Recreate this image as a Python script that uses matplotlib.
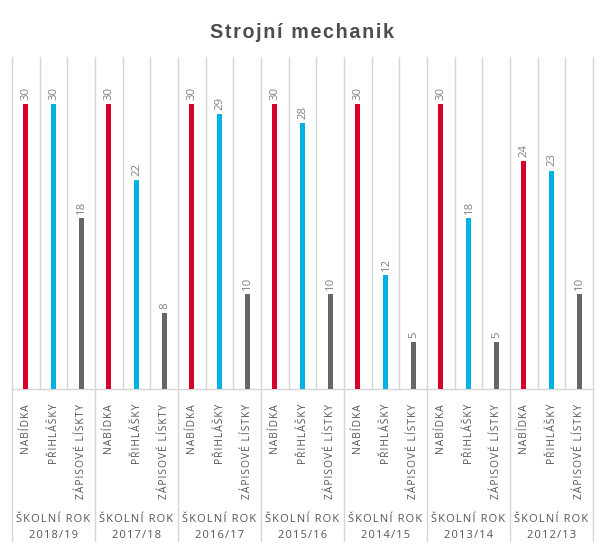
import matplotlib
matplotlib.use('Agg')
import matplotlib.pyplot as plt

title = 'Strojní mechanik'
years = ['2018/19', '2017/18', '2016/17', '2015/16', '2014/15', '2013/14', '2012/13']
nabidka = [30, 30, 30, 30, 30, 30, 24]
prihlasky = [30, 22, 29, 28, 12, 18, 23]
zapisove = [18, 8, 10, 10, 5, 5, 10]
lbl_nabidka = 'NABÍDKA'
lbl_prihlasky = 'PŘIHLÁŠKY'
lbl_zapisove = ['ZÁPISOVÉ LÍSKTY', 'ZÁPISOVÉ LÍSKTY', 'ZÁPISOVÉ LÍSTKY', 'ZÁPISOVÉ LÍSTKY',
                'ZÁPISOVÉ LÍSTKY', 'ZÁPISOVÉ LÍSTKY', 'ZÁPISOVÉ LÍSTKY']
group_word = 'ŠKOLNÍ ROK'

colors = ['#d7002b', '#00b1e4', '#666666']
grid_c = '#d6d6d6'
FAM = ['Open Sans', 'DejaVu Sans']


def sp(s):
    return '\u200a'.join(s)


W, H = 605, 553
fig = plt.figure(figsize=(W / 100, H / 100), dpi=100)
left, right, base, top = 12, 593, 389, 57
ax = fig.add_axes([left / W, 1 - base / H, (right - left) / W, (base - top) / H])
pxu = 9.5
ymax = (base - top) / pxu
ax.set_xlim(0, 21)
ax.set_ylim(0, ymax)
ax.axis('off')

def py(p):
    # pixel y (from top) -> data units
    return (base - p) / pxu

bw = 5 / ((right - left) / 21)

for g, yr in enumerate(years):
    vals = [nabidka[g], prihlasky[g], zapisove[g]]
    labs = [lbl_nabidka, lbl_prihlasky, lbl_zapisove[g]]
    for k in range(3):
        i = g * 3 + k
        x = i + 0.5
        ax.bar(x, vals[k], width=bw, color=colors[k], zorder=3)
        ax.text(x + 0.02, vals[k] + 4 / pxu, str(vals[k]), rotation=90, ha='center', va='bottom',
                fontsize=8.2, color='#808080', family=FAM)
        ax.text(x + 0.02, py(404), sp(labs[k]), rotation=90, ha='center', va='top',
                fontsize=7.35, color='#555555', family=FAM, clip_on=False)
    gx = g * 3 + 1.5
    ax.text(gx, py(519), sp(group_word), ha='center', va='center', fontsize=8,
            color='#555555', family=FAM, clip_on=False)
    ax.text(gx, py(535), sp(yr), ha='center', va='center', fontsize=8,
            color='#555555', family=FAM, clip_on=False)

for i in range(22):
    if i % 3 == 0:
        ax.plot([i, i], [ymax, py(541)], color=grid_c, lw=1, clip_on=False, zorder=1)
    else:
        ax.plot([i, i], [ymax, 0], color=grid_c, lw=1, clip_on=False, zorder=1)
ax.plot([0, 21], [0, 0], color=grid_c, lw=1, clip_on=False, zorder=2)

fig.text(0.5, 1 - 32 / H, sp(title), ha='center', va='center', fontsize=14.2, fontweight='bold',
         color='#4d4d4d', family=['Liberation Sans', 'DejaVu Sans'])

fig.savefig('out.png', dpi=100, facecolor='white')
